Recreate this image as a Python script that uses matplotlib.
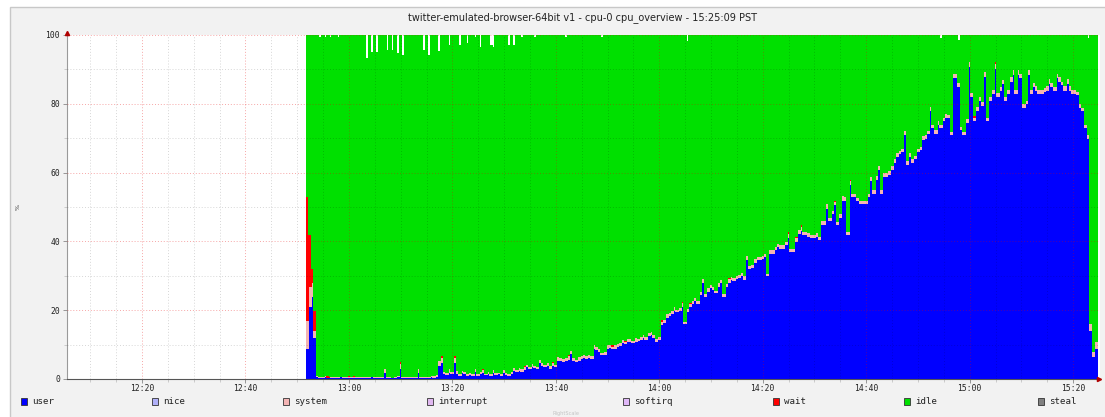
import numpy as np
import matplotlib
matplotlib.use("Agg")
import matplotlib.pyplot as plt
from matplotlib.patches import Rectangle

# ---- chart text ----
title = "twitter-emulated-browser-64bit v1 - cpu-0 cpu_overview - 15:25:09 PST"
series_names = ["user", "nice", "system", "interrupt", "softirq", "wait", "idle", "steal"]
y_ticks = [0, 20, 40, 60, 80, 100]
x_tick_minutes = [20, 40, 60, 80, 100, 120, 140, 160, 180, 200]   # minutes after 12:00

# ---- samples: one every 30 s, first at 12:51:43 ----
first_sample_min = 51.71
sample_step_min = 0.5

user = [
    9, 21, 24, 12, 0.8, 0.5, 0.4, 0.6, 0.3, 0.4,
    0.5, 0.3, 0.4, 0.6, 0.3, 0.5, 0.4, 0.3, 0.5, 0.4,
    0.3, 0.5, 0.4, 0.3, 0.4, 0.6, 0.3, 0.4, 0.5, 0.4,
    2.0, 0.4, 0.5, 0.3, 0.4, 0.6, 3.0, 0.4, 0.3, 0.5,
    0.4, 0.3, 0.5, 1.8, 0.4, 0.3, 0.5, 0.4, 0.6, 0.5,
    0.8, 4.0, 4.7, 1.5, 1.2, 2.0, 1.5, 4.7, 1.6, 1.0,
    1.8, 1.5, 1.0, 1.2, 1.0, 2.2, 1.0, 1.5, 2.0, 1.2,
    1.5, 1.0, 2.0, 1.2, 1.5, 1.0, 2.0, 1.3, 1.0, 1.5,
    2.6, 2.2, 2.5, 2.3, 2.8, 3.5, 3.0, 3.5, 3.2, 3.0,
    4.7, 4.0, 3.5, 3.8, 3.0, 4.0, 3.5, 5.5, 5.5, 5.2,
    5.5, 5.8, 7.3, 5.5, 5.0, 5.5, 6.0, 6.2, 6.0, 6.2,
    6.0, 9.0, 8.5, 8.0, 7.0, 7.0, 9.0, 9.2, 8.8, 9.0,
    9.5, 9.8, 10.5, 10.2, 10.8, 11.0, 10.5, 11.0, 11.2, 11.5,
    12.0, 11.5, 12.5, 12.8, 12.2, 11.0, 11.5, 15.7, 16.5, 18.0,
    18.5, 19.0, 20.0, 19.5, 20.0, 21.0, 16.0, 19.5, 21.0, 22.0,
    22.8, 22.0, 24.5, 28.0, 24.0, 25.5, 26.5, 26.0, 25.0, 27.0,
    28.0, 24.0, 27.0, 28.0, 29.0, 28.5, 29.3, 29.5, 30.0, 29.0,
    34.6, 32.0, 32.5, 34.0, 34.6, 34.6, 35.0, 35.5, 30.0, 36.6,
    36.6, 37.5, 38.4, 38.0, 38.0, 39.0, 41.0, 37.0, 37.0, 40.0,
    42.4, 43.3, 42.0, 42.0, 41.5, 41.0, 41.0, 41.5, 40.5, 45.0,
    45.0, 49.7, 46.0, 48.0, 50.6, 45.0, 47.0, 52.0, 52.0, 42.0,
    56.4, 53.0, 53.0, 52.0, 51.0, 51.0, 51.0, 53.0, 57.8, 54.0,
    58.0, 60.8, 54.0, 59.0, 59.0, 59.5, 61.0, 63.0, 64.6, 65.5,
    66.0, 71.0, 62.4, 64.6, 63.0, 64.0, 66.0, 66.6, 69.5, 70.0,
    71.3, 78.0, 73.0, 71.5, 74.0, 73.0, 75.0, 76.0, 76.0, 71.0,
    87.5, 87.5, 85.0, 72.5, 71.0, 74.6, 90.8, 82.0, 75.0, 78.0,
    81.0, 79.5, 88.0, 75.0, 81.0, 83.0, 90.4, 82.0, 84.0, 86.0,
    81.0, 83.0, 86.6, 88.6, 83.0, 88.6, 87.6, 79.0, 80.0, 88.6,
    83.0, 85.0, 84.0, 83.0, 83.0, 83.5, 84.0, 86.0, 85.0, 84.0,
    87.6, 86.6, 85.5, 84.0, 86.0, 84.0, 83.0, 83.0, 82.6, 79.0,
    78.0, 73.0, 70.0, 14.0, 6.4, 9.0,
]

system = [
    8, 6, 4, 2, 0.3, 0.2, 0.2, 0.3, 0.2, 0.2,
    0.2, 0.3, 0.2, 0.2, 0.3, 0.2, 0.2, 0.3, 0.2, 0.2,
    0.3, 0.2, 0.2, 0.3, 0.2, 0.2, 0.3, 0.2, 0.2, 0.3,
    1.0, 0.2, 0.3, 0.2, 0.2, 0.3, 1.5, 0.2, 0.3, 0.2,
    0.2, 0.3, 0.2, 1.2, 0.2, 0.3, 0.2, 0.2, 0.3, 0.4,
    0.5, 1.5, 1.5, 0.8, 0.6, 1.0, 0.7, 1.5, 0.8, 0.5,
    0.7, 0.6, 0.5, 0.6, 0.5, 0.8, 0.5, 0.6, 0.7, 0.5,
    0.6, 0.5, 0.7, 0.6, 0.5, 0.6, 0.8, 0.5, 0.6, 0.7,
    0.8, 0.7, 0.8, 0.7, 0.9, 0.8, 0.7, 0.9, 0.8, 0.7,
    0.9, 0.8, 0.7, 0.9, 0.8, 0.9, 0.7, 1.0, 0.8, 0.7,
    0.8, 0.9, 1.0, 0.8, 0.7, 0.9, 0.8, 0.9, 0.8, 0.9,
    0.8, 1.0, 0.9, 0.8, 0.7, 0.9, 1.0, 0.8, 0.7, 0.9,
    0.8, 0.7, 0.9, 0.8, 0.9, 0.7, 0.8, 1.0, 0.7, 0.9,
    1.0, 0.8, 0.9, 1.0, 0.8, 0.7, 0.9, 1.1, 0.9, 1.0,
    0.9, 1.0, 1.0, 0.8, 0.9, 1.1, 0.8, 0.9, 1.0, 0.9,
    1.0, 0.9, 1.0, 1.2, 0.9, 1.0, 1.0, 0.9, 0.8, 1.0,
    1.0, 0.8, 0.9, 1.1, 0.9, 1.0, 0.8, 1.0, 0.9, 1.0,
    1.2, 1.0, 0.9, 1.0, 1.0, 0.9, 1.0, 1.0, 0.8, 1.1,
    1.0, 1.0, 0.9, 1.0, 1.0, 0.9, 1.2, 1.0, 0.9, 1.0,
    1.1, 1.0, 0.9, 1.0, 1.0, 0.9, 1.0, 1.0, 0.9, 1.1,
    1.0, 1.2, 1.0, 1.0, 1.1, 0.9, 1.0, 1.2, 1.0, 0.9,
    1.2, 1.0, 1.0, 0.9, 1.0, 1.0, 0.9, 1.0, 1.2, 1.0,
    1.1, 1.2, 1.0, 1.0, 1.0, 1.1, 1.0, 1.2, 1.1, 1.0,
    1.0, 1.3, 1.0, 1.1, 1.0, 1.0, 1.1, 1.0, 1.2, 1.1,
    1.0, 1.3, 1.1, 1.0, 1.2, 1.0, 1.1, 1.2, 1.0, 1.0,
    1.4, 1.3, 1.2, 1.0, 1.0, 1.1, 1.4, 1.2, 1.0, 1.1,
    1.2, 1.1, 1.3, 1.0, 1.2, 1.1, 1.4, 1.2, 1.1, 1.2,
    1.1, 1.2, 1.3, 1.4, 1.1, 1.3, 1.2, 1.0, 1.1, 1.3,
    1.2, 1.1, 1.2, 1.1, 1.2, 1.3, 1.2, 1.3, 1.2, 1.1,
    1.3, 1.2, 1.1, 1.2, 1.3, 1.2, 1.1, 1.2, 1.1, 1.0,
    1.0, 1.0, 1.0, 2.0, 1.5, 2.0,
]

wait = [
    36, 15, 4, 6, 0, 0, 0, 0, 0.5, 0,
    0, 0, 0, 0, 0, 0, 0.4, 0, 0.4, 0,
    0, 0, 0, 0, 0, 0, 0, 0, 0, 0,
    0, 0, 0, 0, 0, 0, 0.5, 0, 0, 0,
    0, 0, 0, 0, 0, 0, 0, 0, 0, 0,
    0, 0, 0.6, 0, 0, 0, 0, 0.5, 0, 0,
    0, 0, 0, 0, 0, 0, 0, 0, 0.3, 0,
    0, 0, 0, 0, 0, 0, 0, 0, 0, 0,
    0, 0, 0, 0, 0.3, 0, 0, 0, 0, 0,
    0, 0, 0, 0, 0, 0.3, 0, 0, 0, 0,
    0, 0.5, 0, 0, 0, 0, 0, 0, 0, 0,
    0, 0, 0, 0, 0, 0, 0, 0, 0.5, 0,
    0, 0, 0, 0.3, 0, 0, 0, 0, 0, 0,
    0, 0, 0, 0, 0, 0, 0, 0.6, 0, 0,
    0, 0, 0, 0, 0, 0.5, 0, 0, 0.3, 0,
    0, 0, 0, 0, 0, 0, 0, 0, 0, 0,
    0, 0, 0, 0.3, 0, 0, 0, 0, 0, 0,
    0, 0, 0, 0, 0, 0, 0, 0, 0, 0,
    0, 0, 0, 0, 0, 0, 0.6, 0, 0, 0.5,
    0, 0.5, 0, 0, 0, 0, 0, 0, 0, 0,
    0, 0, 0, 0, 0.3, 0, 0, 0, 0, 0,
    0.4, 0, 0, 0, 0, 0, 0, 0, 0, 0,
    0, 0, 0, 0, 0, 0, 0, 0, 0, 0,
    0, 0, 0, 0, 0, 0, 0, 0, 0, 0,
    0, 0, 0, 0, 0, 0, 0, 0, 0, 0,
    0, 0, 0, 0, 0, 0, 0, 0, 0.5, 0,
    0, 0, 0, 0, 0, 0, 0.5, 0, 0, 0,
    0, 0, 0, 0, 0, 0, 0, 0, 0, 0,
    0, 0, 0, 0, 0, 0, 0, 0, 0, 0,
    0, 0, 0, 0, 0, 0, 0, 0, 0, 0,
    0, 0, 0, 0, 0, 0,
]

# share of each sample that was not reported (blank notches under 100 %)
unreported = [
    0, 0, 0, 0, 0, 0.7, 0, 0.6, 0, 0.7,
    0, 0, 0.6, 0, 0, 0, 0, 0, 0, 0,
    0, 0, 0, 6.7, 0, 5.0, 0, 5.0, 0, 0,
    0, 4.5, 0, 4.5, 0, 5.5, 0, 6.0, 0, 0,
    0, 0, 0, 0, 0, 4.5, 0, 6.0, 0, 0,
    0, 4.7, 0, 0, 0, 3.0, 0, 0, 0, 3.0,
    0, 0, 2.5, 0, 0, 0.8, 0, 3.5, 0, 0,
    0, 3.0, 3.5, 0, 0, 0, 0, 0, 3.0, 0,
    3.0, 0, 0, 0.8, 0, 0, 0, 0, 0.7, 0,
    0, 0, 0, 0, 0, 0, 0, 0, 0, 0,
    0.6, 0, 0, 0, 0, 0, 0, 0, 0, 0,
    0, 0, 0, 0, 0.6, 0, 0, 0, 0, 0,
    0, 0, 0, 0, 0, 0, 0, 0, 0, 0,
    0, 0, 0, 0, 0, 0, 0, 0, 0, 0,
    0, 0, 0, 0, 0, 0, 0, 2.0, 0, 0,
    0, 0, 0, 0, 0, 0, 0, 0, 0, 0,
    0, 0, 0, 0, 0, 0, 0, 0, 0, 0,
    0, 0, 0, 0, 0, 0, 0, 0, 0, 0,
    0, 0, 0, 0, 0, 0, 0, 0, 0, 0,
    0, 0, 0, 0, 0, 0, 0, 0, 0, 0,
    0, 0, 0, 0, 0, 0, 0, 0, 0, 0,
    0, 0, 0, 0, 0, 0, 0, 0, 0, 0,
    0, 0, 0, 0, 0, 0, 0, 0, 0, 0,
    0, 0, 0, 0, 0, 0, 0, 0, 0, 0,
    0, 0, 0, 0, 0, 1.0, 0, 0, 0, 0,
    0, 0, 1.5, 0, 0, 0, 0, 0, 0, 0,
    0, 0, 0, 0, 0, 0, 0, 0, 0, 0,
    0, 0, 0, 0, 0, 0, 0, 0, 0, 0,
    0, 0, 0, 0, 0, 0, 0, 0, 0, 0,
    0, 0, 0, 0, 0, 0, 0, 0, 0, 0,
    0, 0, 1.0, 0, 0, 0,
]

n = len(user)
nice = np.zeros(n)
interrupt = np.zeros(n)
softirq = np.zeros(n)
steal = np.zeros(n)
idle = 100 - (np.array(user) + nice + np.array(system) + interrupt + softirq
              + np.array(wait) + steal + np.array(unreported))

series = [user, nice, system, interrupt, softirq, wait, idle, steal]
colors = ["#0000ff", "#b0b0f8", "#f4b4b4", "#e0b8f0", "#e0b8f8", "#ff0000", "#00e000", "#808080"]
legend_x = [21, 152, 283, 427, 623, 773, 904, 1038]   # legend entry left edges, px

# ---- figure ----
W, H = 1105, 417
fig = plt.figure(figsize=(W / 100, H / 100), dpi=100)
fig.patch.set_facecolor("white")
fig.patches.append(Rectangle((10 / W, -0.05), 1.0, 1.05 - 7 / H, transform=fig.transFigure,
                             facecolor="#f2f2f2", edgecolor="#c8c8c8", lw=1.0, zorder=-10))

ax = fig.add_axes([67 / W, 1 - 379 / H, (1100 - 67) / W, (379 - 35) / H])
ax.set_facecolor("white")

edges = first_sample_min + sample_step_min * np.arange(n + 1)
base = np.zeros(n)
for vals, col in zip(series, colors):
    vals = np.asarray(vals, dtype=float)
    if np.any(vals > 0):
        ax.stairs(base + vals, edges, baseline=base, fill=True, color=col, lw=0,
                  antialiased=False, zorder=2)
    base = base + vals

ax.set_xlim(5.5, 205.2)
ax.set_ylim(0, 100)

# grid drawn above the data
minor_style = dict(color=(0, 0, 0, 0.16), lw=0.7, ls=(0, (1, 2)), zorder=3)
major_style = dict(color=(0.9, 0, 0, 0.35), lw=0.7, ls=(0, (1, 2)), zorder=3)
for m in np.arange(10, 205, 5):
    ax.axvline(m, **(major_style if m % 20 == 0 else minor_style))
for v in range(10, 101, 10):
    ax.axhline(v, **(major_style if v % 20 == 0 else minor_style))

ax.set_xticks(x_tick_minutes)
ax.set_xticklabels([f"{12 + m // 60}:{m % 60:02d}" for m in x_tick_minutes])
ax.set_xticks(np.arange(10, 205, 5), minor=True)
ax.set_yticks(y_ticks)
ax.set_yticklabels([str(v) for v in y_ticks])
ax.set_yticks(range(10, 100, 20), minor=True)
ax.tick_params(axis="both", which="major", length=3, width=0.6, color="#888888",
               labelsize=5.8, labelcolor="#222222", pad=2)
ax.tick_params(axis="x", which="major", pad=0.8)
ax.tick_params(axis="both", which="minor", length=2, width=0.5, color="#bbbbbb")
for lab in ax.get_xticklabels() + ax.get_yticklabels():
    lab.set_fontfamily("DejaVu Sans Mono")

for s in ("top", "right"):
    ax.spines[s].set_visible(False)
ax.spines["left"].set_color("#9a9a9a")
ax.spines["left"].set_linewidth(0.8)
ax.spines["bottom"].set_color("#555555")
ax.spines["bottom"].set_linewidth(0.8)
ax.plot([5.5], [100.6], marker="^", ms=3, color="#b00000", clip_on=False, zorder=5)
ax.plot([205.0], [0], marker=">", ms=3, color="#b00000", clip_on=False, zorder=5)

# title and labels
fig.text(582 / W, 1 - 18 / H, title, ha="center", va="center", fontsize=7,
         family="DejaVu Sans", color="#222222")
fig.text(18 / W, 1 - 207 / H, "%", rotation=90, ha="center", va="center", fontsize=4.5,
         color="#333333")
fig.text(566 / W, 1 - 413 / H, "RightScale", ha="center", va="center", fontsize=3.6,
         color="#c4c4c4")

# legend row
for name, col, lx in zip(series_names, colors, legend_x):
    fig.patches.append(Rectangle((lx / W, 1 - 405 / H), 6 / W, 7 / H, transform=fig.transFigure,
                                 facecolor=col, edgecolor="#333333", lw=0.6))
    fig.text((lx + 11.5) / W, 1 - 401.5 / H, name, ha="left", va="center", fontsize=6.6,
             family="DejaVu Sans Mono", color="#222222")

fig.savefig("out.png", dpi=100)
